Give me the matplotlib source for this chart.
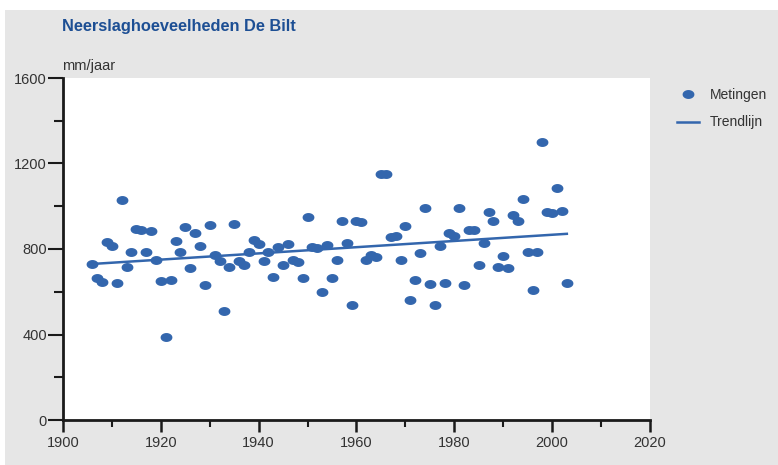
import matplotlib
matplotlib.use("Agg")
import matplotlib.pyplot as plt
import numpy as np
from matplotlib.path import Path
from matplotlib.patches import Rectangle

plt.rcParams['font.family'] = ['Liberation Sans', 'DejaVu Sans']

# jaarlijkse neerslag De Bilt (mm/jaar)
jaren = list(range(1906, 2004))
neerslag = [729, 664, 645, 834, 815, 640, 1027, 718, 787, 893,
            890, 787, 885, 748, 648, 389, 656, 838, 784, 901,
            709, 874, 815, 631, 913, 773, 746, 511, 718, 917,
            746, 726, 785, 843, 823, 746, 785, 670, 809, 726,
            823, 749, 741, 664, 952, 809, 804, 598, 820, 664,
            749, 929, 828, 537, 932, 927, 749, 771, 762, 1152,
            1149, 854, 859, 749, 909, 562, 656, 781, 993, 637,
            537, 815, 643, 874, 863, 993, 632, 890, 890, 725,
            828, 973, 932, 717, 765, 713, 957, 932, 1035, 787,
            609, 787, 1299, 971, 968, 1087, 979, 640]

trend_jaren = [1906, 2003]
trend_waarden = [730, 871]

blauw = '#3366ad'

# ellips-vormige marker (breder dan hoog)
t = np.linspace(0, 2 * np.pi, 40)
ellips = Path(np.column_stack([np.cos(t), 0.72 * np.sin(t)]), closed=True)

fig = plt.figure(figsize=(7.78, 4.65), dpi=100, facecolor='#e6e6e6')
fig.patches.append(Rectangle((0, 1 - 10 / 465), 1, 10 / 465, transform=fig.transFigure,
                             facecolor='white', edgecolor='none', zorder=0))
fig.patches.append(Rectangle((0, 0), 5 / 778, 1, transform=fig.transFigure,
                             facecolor='white', edgecolor='none', zorder=0))

ax = fig.add_axes([63 / 778, 1 - 420 / 465, (650 - 63) / 778, (420 - 78) / 465])
ax.set_facecolor('white')

ax.plot(jaren, neerslag, linestyle='none', marker=ellips, markersize=7.5,
        color=blauw, label='Metingen', zorder=3)
ax.plot(trend_jaren, trend_waarden, color=blauw, linewidth=1.8,
        label='Trendlijn', zorder=2)

ax.set_xlim(1900, 2020)
ax.set_ylim(0, 1600)
ax.set_xticks(range(1900, 2021, 20))
ax.set_xticks(range(1910, 2020, 20), minor=True)
ax.set_yticks(range(0, 1601, 400))
ax.set_yticks(range(200, 1600, 400), minor=True)

for s in ['top', 'right']:
    ax.spines[s].set_visible(False)
for s in ['left', 'bottom']:
    ax.spines[s].set_linewidth(2)
    ax.spines[s].set_color('#1a1a1a')

ax.tick_params(axis='y', which='major', direction='out', length=10.5, width=1.5,
               color='#1a1a1a', labelsize=10.5, labelcolor='#333333', pad=1)
ax.tick_params(axis='y', which='minor', direction='out', length=6.5, width=1.5,
               color='#1a1a1a')
ax.tick_params(axis='x', which='major', direction='out', length=8.5, width=1.8,
               color='#1a1a1a', labelsize=10.5, labelcolor='#333333', pad=3)
ax.tick_params(axis='x', which='minor', direction='out', length=5, width=1.5,
               color='#1a1a1a')

fig.text(62 / 778, 1 - 27 / 465, 'Neerslaghoeveelheden De Bilt', color='#1d4f94',
         fontsize=11.8, fontweight='bold', va='center', ha='left')
fig.text(62 / 778, 1 - 66 / 465, 'mm/jaar', color='#333333', fontsize=10.5,
         va='center', ha='left')

ax.legend(loc='upper left', bbox_to_anchor=(664 / 778, 1 - 75 / 465),
          bbox_transform=fig.transFigure, frameon=False, fontsize=10,
          handlelength=1.65, handletextpad=0.72, labelspacing=1.0,
          labelcolor='#333333')

fig.savefig('out.png', dpi=100, facecolor=fig.get_facecolor())
